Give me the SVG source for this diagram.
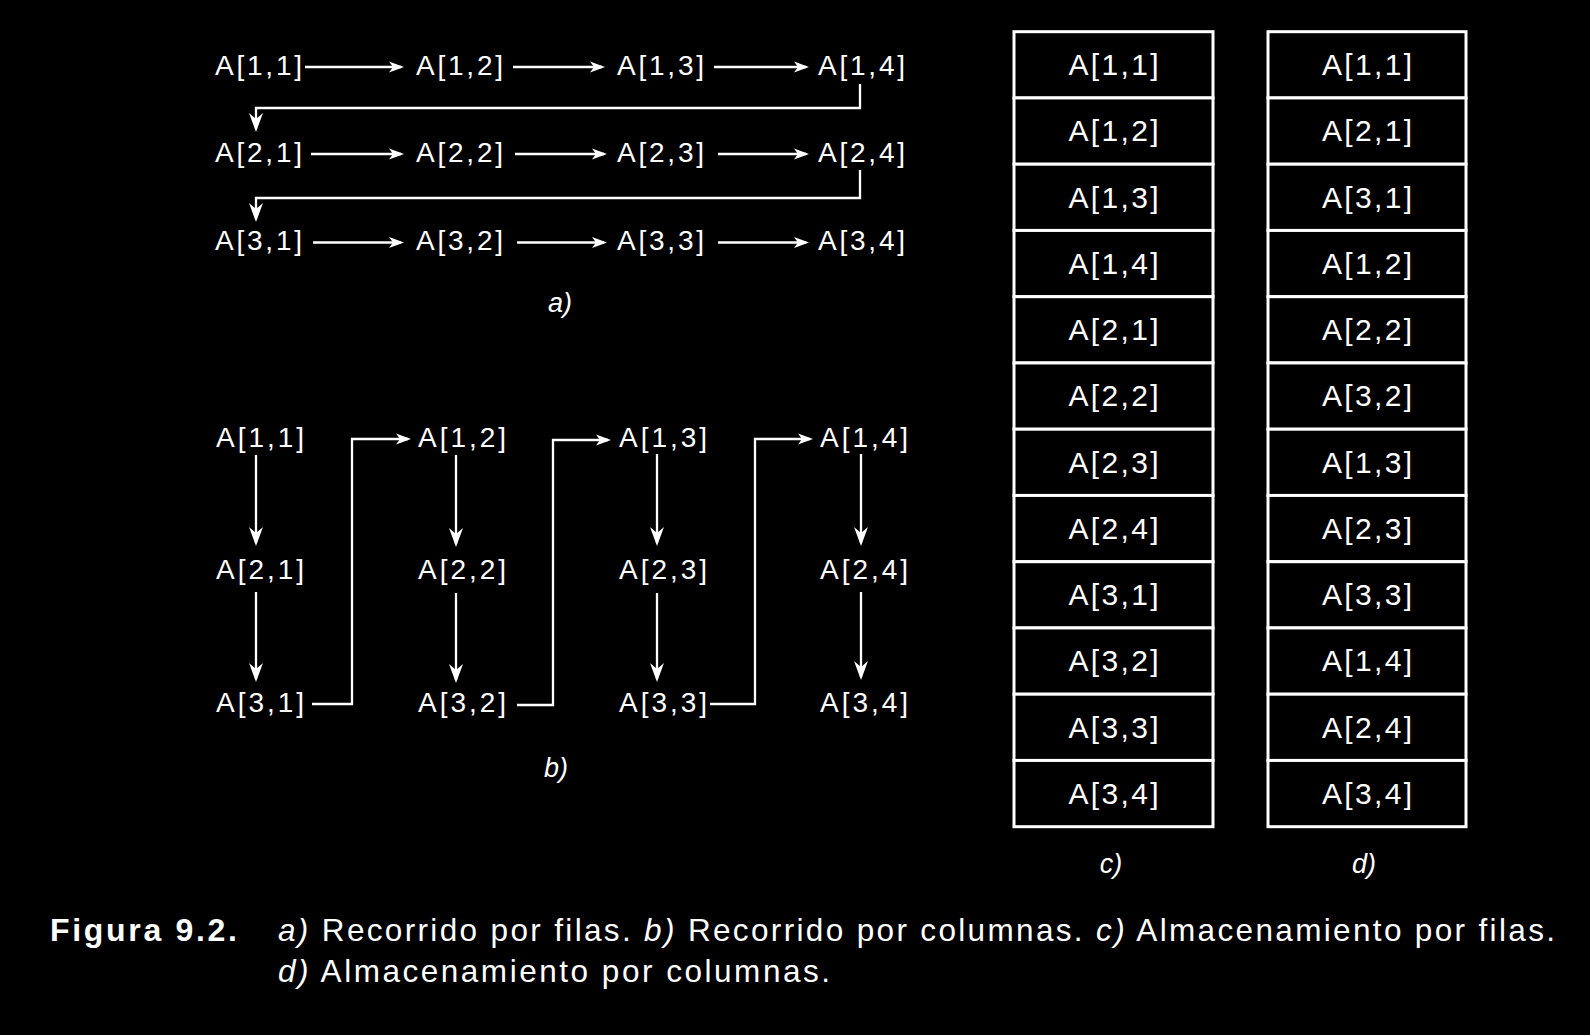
<svg xmlns="http://www.w3.org/2000/svg" width="1590" height="1035" viewBox="0 0 1590 1035">
<style>
.t{font-family:"Liberation Sans",Arial,sans-serif;font-size:28px;fill:#fff}
.tc{font-family:"Liberation Sans",Arial,sans-serif;font-size:30px;fill:#fff;text-anchor:middle}
.lbl{font-family:"Liberation Sans",Arial,sans-serif;font-size:27px;fill:#fff;font-style:italic;text-anchor:middle}
.cap{font-family:"Liberation Sans",Arial,sans-serif;font-size:31.5px;fill:#fff}
.capb{font-family:"Liberation Sans",Arial,sans-serif;font-size:32px;fill:#fff;font-weight:bold}
.i{font-style:italic}
.ar{fill:none;stroke:#fff;stroke-width:2.3;marker-end:url(#ah)}
.av{fill:none;stroke:#fff;stroke-width:2.3;marker-end:url(#av)}
.cell{fill:#000;stroke:#fff;stroke-width:3}
</style>
<defs>
<marker id="ah" markerUnits="userSpaceOnUse" viewBox="-16 -8 20 16" markerWidth="20" markerHeight="16" refX="0" refY="0" orient="auto"><path d="M3,0 L-12,-5.5 L-8,0 L-12,5.5 Z" fill="#fff"/></marker>
<marker id="av" markerUnits="userSpaceOnUse" viewBox="-20 -9 24 18" markerWidth="24" markerHeight="18" refX="0" refY="0" orient="auto"><path d="M3,0 L-16,-7 L-10,0 L-16,7 Z" fill="#fff"/></marker>
</defs>
<rect width="1590" height="1035" fill="#000"/>

<!-- a) row traversal -->
<g id="a11"><text class="t" x="215" y="75" textLength="87" lengthAdjust="spacing">A[1,1]</text></g>
<g id="a12"><text class="t" x="416" y="75" textLength="87" lengthAdjust="spacing">A[1,2]</text></g>
<g id="a13"><text class="t" x="617" y="75" textLength="87" lengthAdjust="spacing">A[1,3]</text></g>
<g id="a14"><text class="t" x="818" y="75" textLength="87" lengthAdjust="spacing">A[1,4]</text></g>
<g id="a21"><text class="t" x="215" y="162" textLength="87" lengthAdjust="spacing">A[2,1]</text></g>
<g id="a22"><text class="t" x="416" y="162" textLength="87" lengthAdjust="spacing">A[2,2]</text></g>
<g id="a23"><text class="t" x="617" y="162" textLength="87" lengthAdjust="spacing">A[2,3]</text></g>
<g id="a24"><text class="t" x="818" y="162" textLength="87" lengthAdjust="spacing">A[2,4]</text></g>
<g id="a31"><text class="t" x="215" y="250" textLength="87" lengthAdjust="spacing">A[3,1]</text></g>
<g id="a32"><text class="t" x="416" y="250" textLength="87" lengthAdjust="spacing">A[3,2]</text></g>
<g id="a33"><text class="t" x="617" y="250" textLength="87" lengthAdjust="spacing">A[3,3]</text></g>
<g id="a34"><text class="t" x="818" y="250" textLength="87" lengthAdjust="spacing">A[3,4]</text></g>

<!-- b) column traversal -->
<g id="b11"><text class="t" x="216" y="447" textLength="88" lengthAdjust="spacing">A[1,1]</text></g>
<g id="b12"><text class="t" x="418" y="447" textLength="88" lengthAdjust="spacing">A[1,2]</text></g>
<g id="b13"><text class="t" x="619" y="447" textLength="88" lengthAdjust="spacing">A[1,3]</text></g>
<g id="b14"><text class="t" x="820" y="447" textLength="88" lengthAdjust="spacing">A[1,4]</text></g>
<g id="b21"><text class="t" x="216" y="579" textLength="88" lengthAdjust="spacing">A[2,1]</text></g>
<g id="b22"><text class="t" x="418" y="579" textLength="88" lengthAdjust="spacing">A[2,2]</text></g>
<g id="b23"><text class="t" x="619" y="579" textLength="88" lengthAdjust="spacing">A[2,3]</text></g>
<g id="b24"><text class="t" x="820" y="579" textLength="88" lengthAdjust="spacing">A[2,4]</text></g>
<g id="b31"><text class="t" x="216" y="712" textLength="88" lengthAdjust="spacing">A[3,1]</text></g>
<g id="b32"><text class="t" x="418" y="712" textLength="88" lengthAdjust="spacing">A[3,2]</text></g>
<g id="b33"><text class="t" x="619" y="712" textLength="88" lengthAdjust="spacing">A[3,3]</text></g>
<g id="b34"><text class="t" x="820" y="712" textLength="88" lengthAdjust="spacing">A[3,4]</text></g>

<g id="connectors">
  <!-- a) -->
  <path class="ar" d="M305,67 H401"/>
  <path class="ar" d="M513,67 H602"/>
  <path class="ar" d="M714,67 H806"/>
  <path class="ar" d="M311,154 H401"/>
  <path class="ar" d="M515,154 H604"/>
  <path class="ar" d="M718,154 H806"/>
  <path class="ar" d="M313,242.5 H401"/>
  <path class="ar" d="M517,242.5 H604"/>
  <path class="ar" d="M718,242.5 H806"/>
  <path class="av" d="M860,84 V108 H256 V129"/>
  <path class="av" d="M860,170 V198 H256 V219"/>
  <!-- b) -->
  <path class="av" d="M256,455 V543"/>
  <path class="av" d="M456,455 V544"/>
  <path class="av" d="M657,454 V543"/>
  <path class="av" d="M861,454 V543"/>
  <path class="av" d="M256,592 V679"/>
  <path class="av" d="M456,593 V680"/>
  <path class="av" d="M657,593 V679"/>
  <path class="av" d="M861,592 V677"/>
  <path class="ar" d="M312,704 H352 V439 H408"/>
  <path class="ar" d="M517,705 H553 V440 H608"/>
  <path class="ar" d="M710,704 H755 V439 H810"/>
</g>

<!-- c) storage by rows -->
<g id="c1"><rect class="cell" x="1014" y="31.7" width="199" height="66.25"/><text class="tc" x="1113.5" y="75.2" textLength="90" lengthAdjust="spacing">A[1,1]</text></g>
<g id="c2"><rect class="cell" x="1014" y="97.95" width="199" height="66.25"/><text class="tc" x="1113.5" y="141.45" textLength="90" lengthAdjust="spacing">A[1,2]</text></g>
<g id="c3"><rect class="cell" x="1014" y="164.2" width="199" height="66.25"/><text class="tc" x="1113.5" y="207.7" textLength="90" lengthAdjust="spacing">A[1,3]</text></g>
<g id="c4"><rect class="cell" x="1014" y="230.45" width="199" height="66.25"/><text class="tc" x="1113.5" y="273.95" textLength="90" lengthAdjust="spacing">A[1,4]</text></g>
<g id="c5"><rect class="cell" x="1014" y="296.7" width="199" height="66.25"/><text class="tc" x="1113.5" y="340.2" textLength="90" lengthAdjust="spacing">A[2,1]</text></g>
<g id="c6"><rect class="cell" x="1014" y="362.95" width="199" height="66.25"/><text class="tc" x="1113.5" y="406.45" textLength="90" lengthAdjust="spacing">A[2,2]</text></g>
<g id="c7"><rect class="cell" x="1014" y="429.2" width="199" height="66.25"/><text class="tc" x="1113.5" y="472.7" textLength="90" lengthAdjust="spacing">A[2,3]</text></g>
<g id="c8"><rect class="cell" x="1014" y="495.45" width="199" height="66.25"/><text class="tc" x="1113.5" y="538.95" textLength="90" lengthAdjust="spacing">A[2,4]</text></g>
<g id="c9"><rect class="cell" x="1014" y="561.7" width="199" height="66.25"/><text class="tc" x="1113.5" y="605.2" textLength="90" lengthAdjust="spacing">A[3,1]</text></g>
<g id="c10"><rect class="cell" x="1014" y="627.95" width="199" height="66.25"/><text class="tc" x="1113.5" y="671.45" textLength="90" lengthAdjust="spacing">A[3,2]</text></g>
<g id="c11"><rect class="cell" x="1014" y="694.2" width="199" height="66.25"/><text class="tc" x="1113.5" y="737.7" textLength="90" lengthAdjust="spacing">A[3,3]</text></g>
<g id="c12"><rect class="cell" x="1014" y="760.45" width="199" height="66.25"/><text class="tc" x="1113.5" y="803.95" textLength="90" lengthAdjust="spacing">A[3,4]</text></g>

<!-- d) storage by columns -->
<g id="d1"><rect class="cell" x="1268" y="31.7" width="198" height="66.25"/><text class="tc" x="1367" y="75.2" textLength="90" lengthAdjust="spacing">A[1,1]</text></g>
<g id="d2"><rect class="cell" x="1268" y="97.95" width="198" height="66.25"/><text class="tc" x="1367" y="141.45" textLength="90" lengthAdjust="spacing">A[2,1]</text></g>
<g id="d3"><rect class="cell" x="1268" y="164.2" width="198" height="66.25"/><text class="tc" x="1367" y="207.7" textLength="90" lengthAdjust="spacing">A[3,1]</text></g>
<g id="d4"><rect class="cell" x="1268" y="230.45" width="198" height="66.25"/><text class="tc" x="1367" y="273.95" textLength="90" lengthAdjust="spacing">A[1,2]</text></g>
<g id="d5"><rect class="cell" x="1268" y="296.7" width="198" height="66.25"/><text class="tc" x="1367" y="340.2" textLength="90" lengthAdjust="spacing">A[2,2]</text></g>
<g id="d6"><rect class="cell" x="1268" y="362.95" width="198" height="66.25"/><text class="tc" x="1367" y="406.45" textLength="90" lengthAdjust="spacing">A[3,2]</text></g>
<g id="d7"><rect class="cell" x="1268" y="429.2" width="198" height="66.25"/><text class="tc" x="1367" y="472.7" textLength="90" lengthAdjust="spacing">A[1,3]</text></g>
<g id="d8"><rect class="cell" x="1268" y="495.45" width="198" height="66.25"/><text class="tc" x="1367" y="538.95" textLength="90" lengthAdjust="spacing">A[2,3]</text></g>
<g id="d9"><rect class="cell" x="1268" y="561.7" width="198" height="66.25"/><text class="tc" x="1367" y="605.2" textLength="90" lengthAdjust="spacing">A[3,3]</text></g>
<g id="d10"><rect class="cell" x="1268" y="627.95" width="198" height="66.25"/><text class="tc" x="1367" y="671.45" textLength="90" lengthAdjust="spacing">A[1,4]</text></g>
<g id="d11"><rect class="cell" x="1268" y="694.2" width="198" height="66.25"/><text class="tc" x="1367" y="737.7" textLength="90" lengthAdjust="spacing">A[2,4]</text></g>
<g id="d12"><rect class="cell" x="1268" y="760.45" width="198" height="66.25"/><text class="tc" x="1367" y="803.95" textLength="90" lengthAdjust="spacing">A[3,4]</text></g>

<!-- sub-labels -->
<text class="lbl" x="560" y="312">a)</text>
<text class="lbl" x="556" y="777">b)</text>
<text class="lbl" x="1111" y="873">c)</text>
<text class="lbl" x="1364" y="873">d)</text>

<!-- caption -->
<text class="capb" x="50" y="941" textLength="187" lengthAdjust="spacing">Figura 9.2.</text>
<text class="cap" x="278" y="941" textLength="1277" lengthAdjust="spacing"><tspan class="i">a)</tspan> Recorrido por filas. <tspan class="i">b)</tspan> Recorrido por columnas. <tspan class="i">c)</tspan> Almacenamiento por filas.</text>
<text class="cap" x="278" y="982" textLength="552" lengthAdjust="spacing"><tspan class="i">d)</tspan> Almacenamiento por columnas.</text>
</svg>
